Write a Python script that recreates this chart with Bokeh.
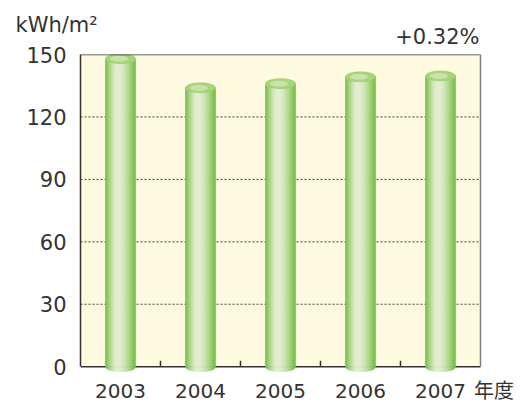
import numpy as np
from bokeh.plotting import figure
from bokeh.models import (Range1d, FixedTicker, BoxAnnotation, Label,
                          ColumnDataSource)
from bokeh.embed import file_html
from bokeh.resources import INLINE

# ---- data ----
years = ["2003", "2004", "2005", "2006", "2007"]
values = [148.0, 134.0, 136.0, 139.3, 139.7]
y_ticks = [0, 30, 60, 90, 120, 150]
unit_label = "kWh/m²"
change_label = "+0.32%"
x_suffix = "年度"
x_suffix_pos = 4.67

FONT = "DejaVu Sans, Noto Sans CJK JP"
TFONT = "DejaVu Sans"
TXT = "#333333"
Y_MAX = 150
X_LO, X_HI = -0.5, len(years) - 0.5

p = figure(width=520, height=405, output_backend="svg", toolbar_location=None,
           title=None,
           x_range=Range1d(X_LO, 4.85), y_range=Range1d(-2.8, Y_MAX),
           min_border_left=80, min_border_right=12, min_border_top=54,
           min_border_bottom=33)
p.background_fill_color = "white"
p.border_fill_color = "white"
p.outline_line_color = None
p.grid.visible = False

# yellow plotting area
p.add_layout(BoxAnnotation(left=X_LO, right=X_HI, bottom=0, top=Y_MAX,
                           fill_color="#fefbe0", fill_alpha=1.0,
                           line_color=None, level="image"))

# dotted grid lines
gy = y_ticks[1:-1]
p.segment(x0=[X_LO] * len(gy), x1=[X_HI] * len(gy), y0=gy, y1=gy,
          line_color="#444444", line_dash="2 2", line_width=1)

# baseline
p.segment(x0=[X_LO], x1=[X_HI], y0=[0], y1=[0], line_color="#333333",
          line_width=1.5)

# inward ticks at category boundaries on the baseline
px_per_unit = 318 / 152.8
bounds_x = [i + 0.5 for i in range(len(years) - 1)]
p.segment(x0=bounds_x, x1=bounds_x, y0=[0] * len(bounds_x),
          y1=[6 / px_per_unit] * len(bounds_x), line_color="#333333",
          line_width=1.5)

# ---- cylinders ----
half_w = 0.1875          # in x units (30 px bar / 80 px category)
ell_h_px = 10            # ellipse height in px
eh = (ell_h_px / 2) / px_per_unit
N = 30
edges = np.linspace(-half_w, half_w, N + 1)
L, R, B, T, C = [], [], [], [], []
edge_rgb = np.array([116, 190, 62])
light_rgb = np.array([226, 237, 210])
for i, v in enumerate(values):
    for k in range(N):
        l, r = edges[k], edges[k + 1]
        mid = (l + r) / 2
        t = (mid + half_w) / (2 * half_w)
        f = t / 0.42 if t < 0.42 else (1 - t) / 0.58
        f = np.sin(f * np.pi / 2) ** 1.2
        rgb = edge_rgb + (light_rgb - edge_rgb) * f
        col = "#%02x%02x%02x" % tuple(int(round(c)) for c in rgb)
        dx = abs(mid) / half_w
        L.append(i + l)
        R.append(i + r)
        B.append(-eh * np.sqrt(max(0.0, 1 - dx * dx)))
        T.append(v)
        C.append(col)
src = ColumnDataSource(dict(left=L, right=R, bottom=B, top=T, color=C))
p.quad(left="left", right="right", bottom="bottom", top="top", source=src,
       fill_color="color", line_color="color", line_width=0.6)

xs = list(range(len(years)))
p.ellipse(x=xs, y=values, width=2 * half_w, height=ell_h_px,
          height_units="screen", fill_color="#a8d47a", line_color="#9acb68",
          line_width=0.6)
p.ellipse(x=[x - 0.02 for x in xs], y=values, width=1.2 * half_w, height=6,
          height_units="screen", fill_color="#cfe5b6", fill_alpha=0.8,
          line_color=None)

# frame lines: top (dark) and right (grey)
p.segment(x0=[X_LO], x1=[X_HI], y0=[Y_MAX], y1=[Y_MAX], line_color="#333333",
          line_width=1.5)
p.segment(x0=[X_HI], x1=[X_HI], y0=[0], y1=[Y_MAX], line_color="#808080",
          line_width=1.5)

# ---- axes ----
p.yaxis.ticker = FixedTicker(ticks=y_ticks)
p.yaxis.bounds = (0, Y_MAX)
p.yaxis.major_tick_line_color = None
p.yaxis.minor_tick_line_color = None
p.yaxis.axis_line_color = "#333333"
p.yaxis.axis_line_width = 1.5
p.yaxis.major_label_standoff = 8
p.yaxis.major_label_text_font = TFONT
p.yaxis.major_label_text_font_size = "21px"
p.yaxis.major_label_text_color = TXT

p.xaxis.ticker = FixedTicker(ticks=xs + [x_suffix_pos])
overrides = {i: y for i, y in enumerate(years)}
overrides[x_suffix_pos] = x_suffix
p.xaxis.major_label_overrides = overrides
p.xaxis.axis_line_color = None
p.xaxis.major_tick_line_color = None
p.xaxis.minor_tick_line_color = None
p.xaxis.major_label_standoff = 0
p.xaxis.major_label_text_font = FONT
p.xaxis.major_label_text_font_size = "20px"
p.xaxis.major_label_text_color = TXT

# top texts as labels in the top panel (anchored to data coordinates)
p.add_layout(Label(x=X_LO, y=Y_MAX, x_offset=-65, y_offset=30,
                   text=unit_label, text_font=TFONT, text_font_size="21px",
                   text_color=TXT, text_baseline="alphabetic",
                   text_align="left"), "above")
p.add_layout(Label(x=X_HI, y=Y_MAX, x_offset=-1, y_offset=18,
                   text=change_label, text_font=TFONT, text_font_size="21px",
                   text_color=TXT, text_baseline="alphabetic",
                   text_align="right"), "above")

open("out.html", "w").write(file_html(p, INLINE))
